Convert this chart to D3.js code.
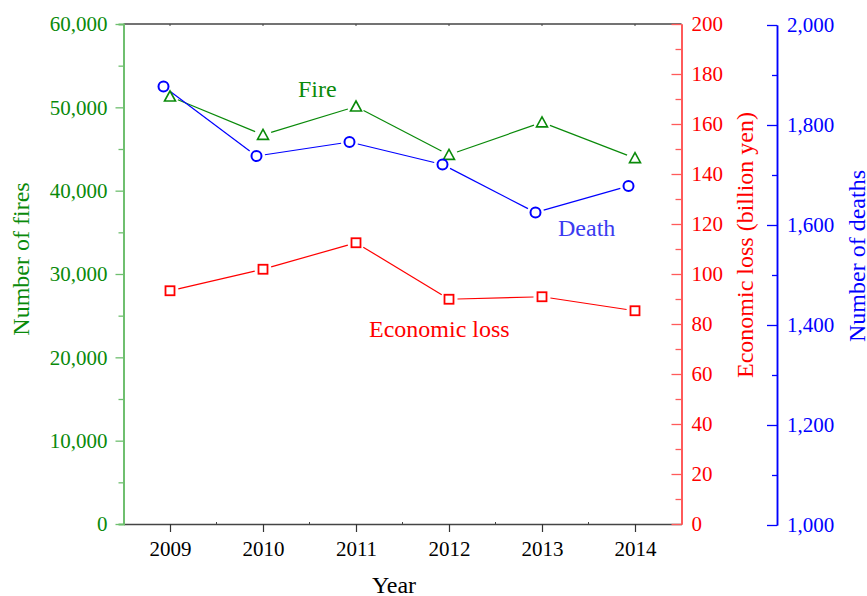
<!DOCTYPE html>
<html>
<head>
<meta charset="utf-8">
<script src="https://cdn.jsdelivr.net/npm/d3@7"></script>
<style>
  html, body { margin: 0; padding: 0; background: #fff; }
  svg { display: block; }
  svg text { font-family: "Liberation Serif", "DejaVu Serif", serif; }
</style>
</head>
<body>
<svg id="chart" width="867" height="596"></svg>
<script>
// Fires in Japan, 2009–2014
const years = [2009, 2010, 2011, 2012, 2013, 2014];
const fires = [51300, 46700, 50100, 44300, 48200, 43900];
const economicLoss = [93.3, 101.9, 112.5, 89.9, 90.9, 85.3]; // billion yen
const deaths = [1877, 1738, 1766, 1721, 1625, 1678];

const fireTicks = [0, 10000, 20000, 30000, 40000, 50000, 60000];
const lossTicks = [0, 20, 40, 60, 80, 100, 120, 140, 160, 180, 200];
const deathTicks = [1000, 1200, 1400, 1600, 1800, 2000];

const GREEN = "#0a8a0a", RED = "#ff0000", BLUE = "#0000ff";
const SERIF = "'Liberation Serif', 'DejaVu Serif', serif";

const svg = d3.select("#chart");
const L = 123.5, R = 681.5, T = 24, B = 524;

const x = d3.scaleLinear().domain([2008.5, 2014.5]).range([L, R]);
const yFire = d3.scaleLinear().domain([0, 60000]).range([B, T]);
const yLoss = d3.scaleLinear().domain([0, 200]).range([B, T]);
const yDeath = d3.scaleLinear().domain([1000, 2000]).range([B + 1, T + 1]);

const fmt = d3.format(",");

// frame: top line
svg.append("line").attr("x1", L).attr("x2", R).attr("y1", T).attr("y2", T)
  .attr("stroke", "#444").attr("stroke-width", 1.5);

// x axis
const xAxis = svg.append("g").attr("transform", `translate(0,${B})`)
  .call(d3.axisBottom(x).tickValues(years).tickFormat(d3.format("d"))
    .tickSize(8).tickSizeOuter(0).tickPadding(9));
xAxis.attr("font-family", SERIF);
xAxis.select(".domain").attr("stroke", "#444").attr("stroke-width", 1.5);
xAxis.selectAll(".tick line").attr("stroke", "#333").attr("stroke-width", 1.2);
xAxis.selectAll("text").attr("font-size", 21).attr("fill", "#000");
// small inward ticks on the frame
svg.append("g").selectAll("line").data(years.map(d => d + 0.5).slice(0, 5)).join("line")
  .attr("x1", d => x(d)).attr("x2", d => x(d)).attr("y1", B).attr("y2", B - 2)
  .attr("stroke", "#444");
svg.append("g").selectAll("line").data(years).join("line")
  .attr("x1", d => x(d)).attr("x2", d => x(d)).attr("y1", T).attr("y2", T + 2)
  .attr("stroke", "#444");

function styleAxis(g, color, lineColor, lineWidth) {
  g.attr("font-family", SERIF);
  g.select(".domain").attr("stroke", lineColor).attr("stroke-width", lineWidth);
  g.selectAll(".tick line").attr("stroke", lineColor).attr("stroke-width", 1.3);
  g.selectAll("text").attr("fill", color).attr("font-size", 21);
}

// left axis (fires)
const leftMinor = svg.append("g").attr("transform", `translate(${L},0)`)
  .call(d3.axisLeft(yFire).tickValues(d3.range(5000, 60000, 10000)).tickSize(5).tickFormat(""));
styleAxis(leftMinor, GREEN, "#6fbf6f", 2);
const leftAxis = svg.append("g").attr("transform", `translate(${L},0)`)
  .call(d3.axisLeft(yFire).tickValues(fireTicks).tickFormat(fmt).tickSize(8).tickSizeOuter(0).tickPadding(8));
styleAxis(leftAxis, GREEN, "#6fbf6f", 2);

// right axis (economic loss)
const redMinor = svg.append("g").attr("transform", `translate(${R},0)`)
  .call(d3.axisRight(yLoss).tickValues(d3.range(10, 200, 20)).tickSizeInner(-6).tickSizeOuter(0).tickFormat(""));
styleAxis(redMinor, RED, "#ff5a5a", 2);
const redAxis = svg.append("g").attr("transform", `translate(${R},0)`)
  .call(d3.axisRight(yLoss).tickValues(lossTicks).tickSizeInner(-10).tickSizeOuter(0).tickPadding(10));
styleAxis(redAxis, RED, "#ff5a5a", 2);

// far right axis (deaths)
const DX = 777;
const blueMinor = svg.append("g").attr("transform", `translate(${DX},0)`)
  .call(d3.axisRight(yDeath).tickValues(d3.range(1100, 2000, 200)).tickSizeInner(-5).tickSizeOuter(0).tickFormat(""));
styleAxis(blueMinor, BLUE, BLUE, 1.5);
const blueAxis = svg.append("g").attr("transform", `translate(${DX},0)`)
  .call(d3.axisRight(yDeath).tickValues(deathTicks).tickFormat(fmt).tickSizeInner(-10).tickSizeOuter(0).tickPadding(10));
styleAxis(blueAxis, BLUE, BLUE, 1.5);

// axis titles
svg.append("text").attr("transform", "translate(29,259) rotate(-90)")
  .attr("text-anchor", "middle").attr("font-size", 24).attr("fill", GREEN).text("Number of fires");
svg.append("text").attr("transform", "translate(753,245) rotate(-90)")
  .attr("text-anchor", "middle").attr("font-size", 24).attr("fill", RED).text("Economic loss (billion yen)");
svg.append("text").attr("transform", "translate(865,256) rotate(-90)")
  .attr("text-anchor", "middle").attr("font-size", 24).attr("fill", BLUE).text("Number of deaths");
svg.append("text").attr("x", 394).attr("y", 593).attr("text-anchor", "middle")
  .attr("font-size", 24).attr("fill", "#000").text("Year");

// series: segments stop short of each marker
const GAP = 8.5;
function drawSeries(values, yScale, color, dx) {
  const pts = years.map((yr, i) => [x(yr) + dx, yScale(values[i])]);
  const g = svg.append("g");
  for (let i = 0; i < pts.length - 1; i++) {
    const [x0, y0] = pts[i], [x1, y1] = pts[i + 1];
    const len = Math.hypot(x1 - x0, y1 - y0);
    const ux = (x1 - x0) / len, uy = (y1 - y0) / len;
    g.append("line")
      .attr("x1", x0 + ux * GAP).attr("y1", y0 + uy * GAP)
      .attr("x2", x1 - ux * GAP).attr("y2", y1 - uy * GAP)
      .attr("stroke", color).attr("stroke-width", 1.2);
  }
  return pts;
}

const firePts = drawSeries(fires, yFire, GREEN, 0);
const lossPts = drawSeries(economicLoss, yLoss, RED, 0);
const deathPts = drawSeries(deaths, yDeath, BLUE, -6.5);

svg.append("g").selectAll("path").data(firePts).join("path")
  .attr("transform", d => `translate(${d[0]},${d[1]})`)
  .attr("d", "M0,-5.5 L5.5,4.5 L-5.5,4.5 Z")
  .attr("fill", "#fff").attr("stroke", GREEN).attr("stroke-width", 1.6);
svg.append("g").selectAll("rect").data(lossPts).join("rect")
  .attr("x", d => d[0] - 4.5).attr("y", d => d[1] - 4.5).attr("width", 9).attr("height", 9)
  .attr("fill", "#fff").attr("stroke", RED).attr("stroke-width", 1.8);
svg.append("g").selectAll("circle").data(deathPts).join("circle")
  .attr("cx", d => d[0]).attr("cy", d => d[1]).attr("r", 5)
  .attr("fill", "#fff").attr("stroke", BLUE).attr("stroke-width", 2);

// series labels
svg.append("text").attr("x", 298).attr("y", 97).attr("font-size", 24).attr("fill", GREEN).text("Fire");
svg.append("text").attr("x", 558).attr("y", 236).attr("font-size", 24).attr("fill", "#3b3bf0").text("Death");
svg.append("text").attr("x", 369).attr("y", 337).attr("font-size", 24).attr("fill", RED).text("Economic loss");
</script>
</body>
</html>
